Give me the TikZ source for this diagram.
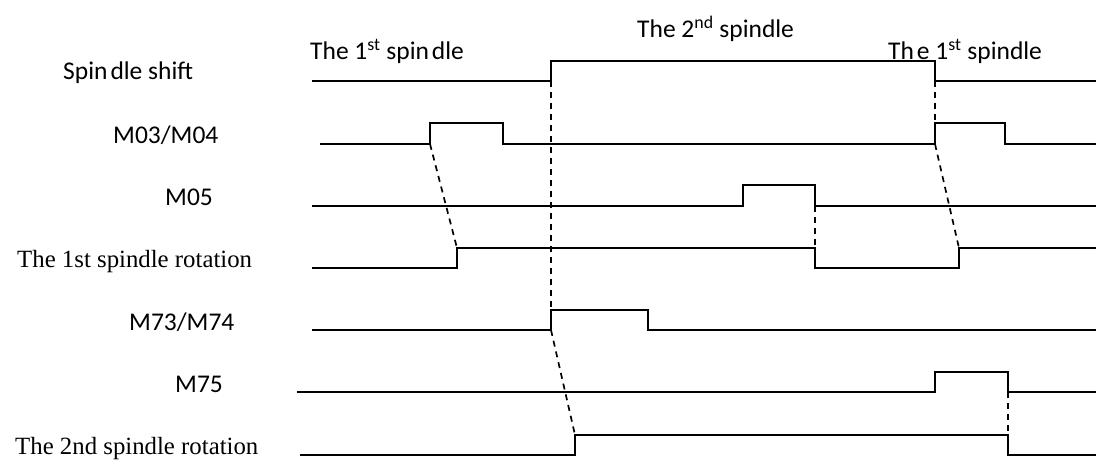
\documentclass[tikz,border=0pt]{standalone}
\usepackage{fontspec}
\setmainfont{Liberation Serif}
\newfontfamily\lblfont{Carlito}
\begin{document}
\begin{tikzpicture}[x=1pt,y=-1pt,
  sig/.style={line width=2pt,line join=miter},
  conn/.style={line width=1.7pt,dash pattern=on 6pt off 5pt},
  slbl/.style={anchor=base west,inner sep=0pt,font=\fontsize{25.5}{29}\lblfont},
  rlbl/.style={anchor=base west,inner sep=0pt,font=\fontsize{24.8}{28}\selectfont},
]
\useasboundingbox[fill=white] (0,0) rectangle (1096,460);
% labels
\node[slbl] (lss) at (63,80) {Spin\kern3pt dle shift};
\node[slbl] (lm03) at (113,143) {M03/M04};
\node[slbl] (lm05) at (165,205) {M05};
\node[rlbl] (lr1) at (17,267) {The 1st spindle rotation};
\node[slbl] (lm73) at (129,330) {M73/M74};
\node[slbl] (lm75) at (175,392) {M75};
\node[rlbl] (lr2) at (15,454) {The 2nd spindle rotation};
\node[slbl] (t1) at (310,60) {The 1\textsuperscript{st} spin\kern3pt dle};
\node[slbl] (t2) at (637,38) {The 2\textsuperscript{nd} spindle};
\node[slbl] (t3) at (888,60) {Th\kern3pt e 1\textsuperscript{st} spindle};
% edge coordinates
\coordinate (ssR) at (551,81);
\coordinate (ssF) at (935,81);
\coordinate (m03R1) at (430,144);
\coordinate (m03R2) at (935,144);
\coordinate (m05F) at (815,206);
\coordinate (r1R1) at (457,248);
\coordinate (r1F) at (815,268);
\coordinate (r1R2) at (959,248);
\coordinate (m73R) at (551,330);
\coordinate (m75F) at (1008,392);
\coordinate (r2R) at (575,435);
\coordinate (r2F) at (1008,435);
% signals
\draw[sig] (312,81) -- (551,81) -- (551,61) -- (935,61) -- (935,81) -- (1096,81);
\draw[sig] (320,144) -- (430,144) -- (430,123) -- (503,123) -- (503,144) -- (935,144) -- (935,123) -- (1005,123) -- (1005,144) -- (1096,144);
\draw[sig] (312,206) -- (743,206) -- (743,185) -- (815,185) -- (815,206) -- (1096,206);
\draw[sig] (312,268) -- (457,268) -- (457,248) -- (815,248) -- (815,268) -- (959,268) -- (959,248) -- (1096,248);
\draw[sig] (312,330) -- (551,330) -- (551,310) -- (648,310) -- (648,330) -- (1096,330);
\draw[sig] (297,392) -- (935,392) -- (935,372) -- (1008,372) -- (1008,392) -- (1096,392);
\draw[sig] (300,455) -- (575,455) -- (575,435) -- (1008,435) -- (1008,455) -- (1096,455);
% dashed connectors
\draw[conn] (m03R1) -- (r1R1);
\draw[conn] (ssR) -- (m73R);
\draw[conn] (m73R) -- (r2R);
\draw[conn] (m05F) -- (r1F);
\draw[conn] (ssF) -- (m03R2);
\draw[conn] (m03R2) -- (r1R2);
\draw[conn] (m75F) -- (r2F);
\end{tikzpicture}
\end{document}
